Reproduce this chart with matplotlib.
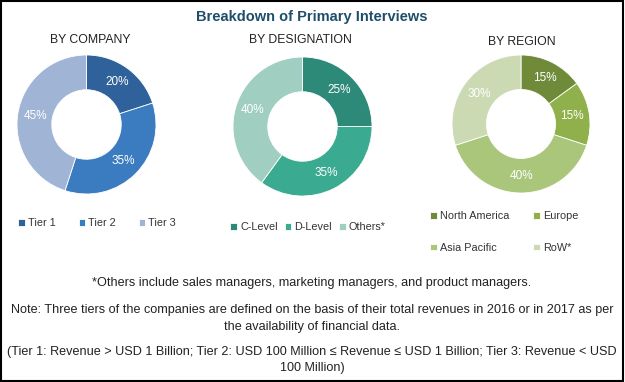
import numpy as np
import matplotlib.pyplot as plt
from matplotlib.patches import Rectangle

plt.rcParams['font.family'] = ['Liberation Sans', 'DejaVu Sans']

# data
company_labels = ['Tier 1', 'Tier 2', 'Tier 3']
company_vals = [20, 35, 45]
company_colors = ['#2f619a', '#3b7bc0', '#a0b4d6']

desig_labels = ['C-Level', 'D-Level', 'Others*']
desig_vals = [25, 35, 40]
desig_colors = ['#2e8a78', '#3aaa90', '#a0cfc2']

region_labels = ['North America', 'Europe', 'Asia Pacific', 'RoW*']
region_vals = [15, 15, 40, 30]
region_colors = ['#6f8b3a', '#8fb04a', '#a9c67a', '#ccdab4']

W, H = 625, 382
fig = plt.figure(figsize=(W / 100, H / 100), dpi=100)
fig.patches.append(Rectangle((0.002, 0.003), 0.995, 0.994, transform=fig.transFigure,
                             fill=False, edgecolor='black', linewidth=1.5))


def donut(cx, cy, r, vals, colors):
    ax = fig.add_axes([(cx - r) / W, 1 - (cy + r) / H, 2 * r / W, 2 * r / H])
    wedges, texts = ax.pie(vals, colors=colors, startangle=90, counterclock=False,
                           radius=1, wedgeprops=dict(width=0.5, edgecolor='white', linewidth=0.6))
    ax.set_xlim(-1, 1)
    ax.set_ylim(-1, 1)
    ax.set_aspect('equal')
    ax.axis('off')
    cum = 0
    for v in vals:
        mid = 90 - (cum + v / 2) * 3.6
        cum += v
        a = np.deg2rad(mid)
        ax.text(0.75 * np.cos(a), 0.75 * np.sin(a), f'{v}%', color='white',
                ha='center', va='center', fontsize=8.5)
    return wedges


w1 = donut(86.5, 124.5, 69.5, company_vals, company_colors)
w2 = donut(302.5, 126.5, 69.5, desig_vals, desig_colors)
w3 = donut(521, 124, 69, region_vals, region_colors)

fig.text(312 / W, 1 - 17 / H, 'Breakdown of Primary Interviews', ha='center', va='center',
         fontsize=10.5, fontweight='bold', color='#1f4e6b')
fig.text(90 / W, 1 - 40 / H, 'BY COMPANY', ha='center', va='center', fontsize=8.8, color='#222222')
fig.text(300 / W, 1 - 40 / H, 'BY DESIGNATION', ha='center', va='center', fontsize=8.8, color='#222222')
fig.text(522 / W, 1 - 42 / H, 'BY REGION', ha='center', va='center', fontsize=8.8, color='#222222')

leg_kw = dict(frameon=False, fontsize=7.8, handlelength=0.6, handleheight=0.6,
              handletextpad=0.3, borderaxespad=0, labelcolor='#333333')
fig.legend(w1, company_labels, loc='center left', bbox_to_anchor=(14 / W, 1 - 223 / H),
           ncol=3, columnspacing=2.1, **leg_kw)
fig.legend(w2, desig_labels, loc='center left', bbox_to_anchor=(226 / W, 1 - 227 / H),
           ncol=3, columnspacing=0.65, **leg_kw)
# column-wise fill: NA / Asia Pacific, Europe / RoW
order = [0, 2, 1, 3]
fig.legend([w3[i] for i in order], [region_labels[i] for i in order], loc='center left',
           bbox_to_anchor=(426 / W, 1 - 232 / H), ncol=2, columnspacing=2.2,
           labelspacing=2.0, **leg_kw)

foot = dict(ha='center', va='center', fontsize=9.1, color='#222222')
fig.text(312 / W, 1 - 283 / H, '*Others include sales managers, marketing managers, and product managers.', **foot)
fig.text(312 / W, 1 - 310 / H, 'Note: Three tiers of the companies are defined on the basis of their total revenues in 2016 or in 2017 as per', **foot)
fig.text(312 / W, 1 - 327 / H, 'the availability of financial data.', **foot)
fig.text(312 / W, 1 - 352 / H, '(Tier 1: Revenue > USD 1 Billion; Tier 2: USD 100 Million \u2264 Revenue \u2264 USD 1 Billion; Tier 3: Revenue < USD', **foot)
fig.text(312 / W, 1 - 368 / H, '100 Million)', **foot)

fig.savefig('out.png', dpi=100)
